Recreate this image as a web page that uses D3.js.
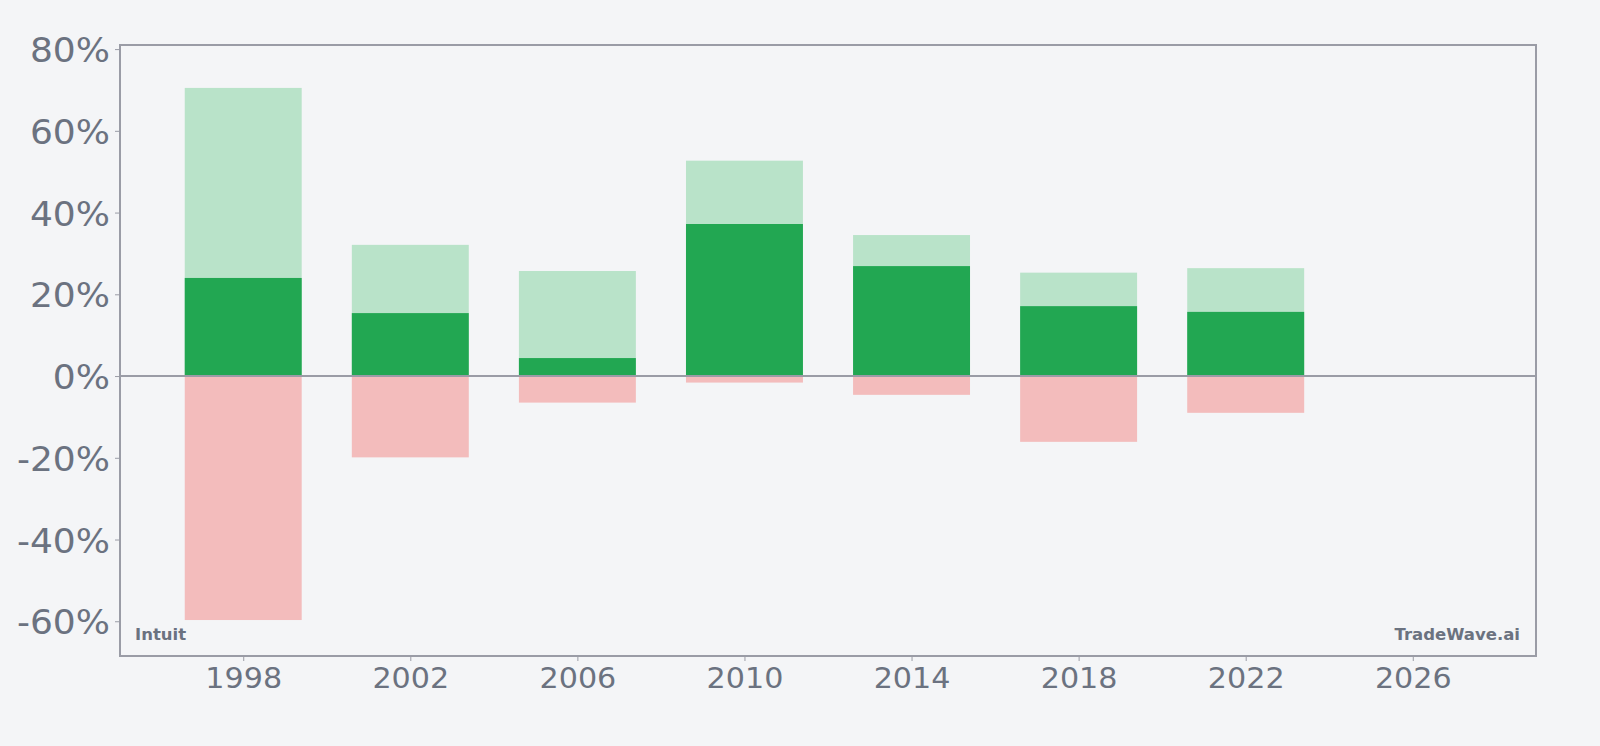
<!DOCTYPE html>
<html>
<head>
<meta charset="utf-8">
<script src="https://cdn.jsdelivr.net/npm/d3@7"></script>
<style>
html,body{margin:0;padding:0;background:#f4f5f7;}
svg{display:block;font-family:"DejaVu Sans",sans-serif;}
</style>
</head>
<body>
<svg id="chart" width="1600" height="746"></svg>
<script>
const years = [1998, 2002, 2006, 2010, 2014, 2018, 2022];
const highValues = [70.5, 32.1, 25.7, 52.7, 34.5, 25.3, 26.4];
const midValues = [24.0, 15.4, 4.4, 37.2, 26.9, 17.1, 15.7];
const lowValues = [-59.7, -19.9, -6.5, -1.6, -4.6, -16.1, -9.0];
const yTicks = [-60, -40, -20, 0, 20, 40, 60, 80];
const xTicks = [1998, 2002, 2006, 2010, 2014, 2018, 2022, 2026];

const svg = d3.select("#chart");
const L = 120, R = 1536, T = 45, B = 656;
const x = d3.scaleLinear().domain([1995.05, 2028.95]).range([L, R]);
const y = d3.scaleLinear().domain([-68.5, 81.0]).range([B, T]);
const barW = 2.8;
const textColor = "#6b7280";
const axisColor = "#9a9ca6";
const fontFam = "'DejaVu Sans', sans-serif";

const data = years.map((yr, i) => ({yr, hi: highValues[i], mid: midValues[i], lo: lowValues[i]}));

const bars = svg.append("g");
bars.selectAll("rect.hi").data(data).enter().append("rect")
  .attr("x", d => x(d.yr - barW/2)).attr("width", d => x(d.yr + barW/2) - x(d.yr - barW/2))
  .attr("y", d => y(d.hi)).attr("height", d => y(0) - y(d.hi))
  .attr("fill", "#b9e3c9");
bars.selectAll("rect.mid").data(data).enter().append("rect")
  .attr("x", d => x(d.yr - barW/2)).attr("width", d => x(d.yr + barW/2) - x(d.yr - barW/2))
  .attr("y", d => y(d.mid)).attr("height", d => y(0) - y(d.mid))
  .attr("fill", "#22a752");
bars.selectAll("rect.lo").data(data).enter().append("rect")
  .attr("x", d => x(d.yr - barW/2)).attr("width", d => x(d.yr + barW/2) - x(d.yr - barW/2))
  .attr("y", y(0)).attr("height", d => y(d.lo) - y(0))
  .attr("fill", "#f3bcbc");

// zero line
svg.append("line").attr("x1", L).attr("x2", R).attr("y1", y(0)).attr("y2", y(0))
  .attr("stroke", axisColor).attr("stroke-width", 2);

// frame
svg.append("rect").attr("x", L).attr("y", T).attr("width", R - L).attr("height", B - T)
  .attr("fill", "none").attr("stroke", axisColor).attr("stroke-width", 2);

// y axis
const ySx = 1.06;
const yAxis = svg.append("g").attr("transform", `translate(${L},0)`)
  .call(d3.axisLeft(y).tickValues(yTicks).tickSize(5).tickPadding(8).tickFormat(d => d + "%"));
yAxis.attr("font-family", fontFam);
yAxis.select(".domain").remove();
yAxis.selectAll("line").attr("stroke", axisColor).attr("stroke-width", 1);
yAxis.selectAll("text").attr("fill", textColor).style("font-size", "34px").attr("dy", "0.37em")
  .attr("x", -10 / ySx).attr("transform", `scale(${ySx},1)`);

// x axis
const xSx = 1.04;
const xAxis = svg.append("g").attr("transform", `translate(0,${B})`)
  .call(d3.axisBottom(x).tickValues(xTicks).tickSize(5).tickPadding(6).tickFormat(d3.format("d")));
xAxis.attr("font-family", fontFam);
xAxis.select(".domain").remove();
xAxis.selectAll("line").attr("stroke", axisColor).attr("stroke-width", 1);
xAxis.selectAll("text").attr("fill", textColor).style("font-size", "29px")
  .attr("transform", `scale(${xSx},1)`);

// annotations
svg.append("text").attr("x", 135).attr("y", 640).text("Intuit")
  .attr("fill", textColor).style("font-size", "16.5px").style("font-weight", "bold");
svg.append("text").attr("x", 1520).attr("y", 640).attr("text-anchor", "end").text("TradeWave.ai")
  .attr("fill", textColor).style("font-size", "16.5px").style("font-weight", "bold");
</script>
</body>
</html>
